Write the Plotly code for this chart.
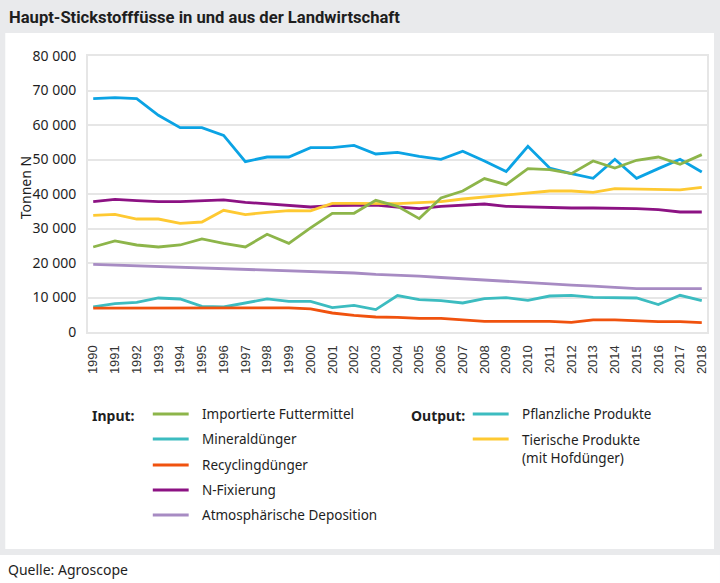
import plotly.graph_objects as go

years = list(range(1990, 2019))

mineralduenger = [67650, 67940, 67650, 62800, 59240, 59240, 57000, 49390, 50720, 50720,
                  53440, 53440, 54100, 51600, 52050, 50930, 50060, 52380, 49570, 46490,
                  53830, 47540, 45910, 44550, 50060, 44550, 47360, 50060, 46380]
importierte_futtermittel = [24640, 26380, 25220, 24640, 25220, 26960, 25710, 24640, 28320, 25710,
                            30150, 34410, 34410, 38170, 36430, 32870, 38840, 40870, 44460, 42720,
                            47360, 47070, 45910, 49570, 47540, 49770, 50720, 48610, 51420]
tierische_produkte = [33830, 34120, 32750, 32750, 31510, 31880, 35280, 34030, 34700, 35190,
                      35100, 37300, 37300, 37300, 37200, 37500, 37800, 38550, 39130, 39710,
                      40290, 40870, 40870, 40490, 41560, 41360, 41360, 41170, 41940]
n_fixierung = [37800, 38460, 38080, 37800, 37800, 37980, 38270, 37600, 37100, 36520,
               36230, 36620, 36810, 36810, 36230, 35750, 36430, 36810, 37100, 36430,
               36230, 35940, 35940, 35940, 35940, 35750, 35460, 34780, 34780]
atmosph_deposition = [19600, 19400, 19200, 19000, 18800, 18600, 18400, 18200, 18000, 17800,
                      17500, 17300, 17100, 16700, 16500, 16200, 15800, 15400, 15200, 14700,
                      14300, 14000, 13600, 13300, 13000, 12600, 12600, 12600, 12600]
pflanzliche_produkte = [7250, 8230, 8610, 9860, 9570, 7450, 7250, 8410, 9570, 8900,
                        8900, 7060, 7740, 6490, 10550, 9390, 9100, 8410, 9680, 9970,
                        9190, 10430, 10640, 10060, 10060, 9860, 7940, 10640, 9100]
recyclingduenger = [6900, 6900, 6900, 6900, 7000, 6900, 7000, 7000, 7000, 7000,
                    6700, 5510, 4840, 4350, 4250, 3970, 3970, 3590, 3100, 3100,
                    3100, 3100, 2810, 3490, 3490, 3200, 3010, 3010, 2720]

yticks = [0, 10000, 20000, 30000, 40000, 50000, 60000, 70000, 80000]

C_BLUE = "#0ba3e4"
C_GREEN = "#8db54a"
C_YELLOW = "#fec932"
C_PURPLE = "#8c1283"
C_LAV = "#a78bc3"
C_TEAL = "#3cbcc0"
C_ORANGE = "#f0520e"

series = [
    ("Mineraldünger", mineralduenger, C_BLUE),
    ("Atmosphärische Deposition", atmosph_deposition, C_LAV),
    ("Pflanzliche Produkte", pflanzliche_produkte, C_TEAL),
    ("Recyclingdünger", recyclingduenger, C_ORANGE),
    ("N-Fixierung", n_fixierung, C_PURPLE),
    ("Tierische Produkte (mit Hofdünger)", tierische_produkte, C_YELLOW),
    ("Importierte Futtermittel", importierte_futtermittel, C_GREEN),
]

fig = go.Figure()
for name, vals, col in series:
    fig.add_trace(go.Scatter(x=years, y=vals, name=name, mode="lines",
                             line=dict(color=col, width=2.8), showlegend=False))

W, H = 720, 583
L, R, T, B = 88, 709, 56, 332

def px(x):
    return (x - L) / (R - L)

def py(y):
    return (B - y) / (B - T)

FONT = "Noto Sans, Open Sans, sans-serif"
TXT = "#1e1e1e"
GRAY = "#e9eaec"

shapes = [
    dict(type="rect", xref="paper", yref="paper", x0=px(5), x1=px(716), y0=py(549), y1=py(33),
         fillcolor="white", line=dict(width=0), layer="below"),
    dict(type="rect", xref="paper", yref="paper", x0=px(-2), x1=px(722), y0=py(585), y1=py(555),
         fillcolor="white", line=dict(width=0), layer="below"),
]
annotations = [
    dict(text="<b>Haupt-Stickstofffüsse in und aus der Landwirtschaft</b>", xref="paper", yref="paper",
         x=px(7), y=py(17), xanchor="left", yanchor="middle", showarrow=False,
         font=dict(family="Liberation Sans Narrow, Roboto, Noto Sans, sans-serif", size=16.6, color=TXT)),
    dict(text="Quelle: Agroscope", xref="paper", yref="paper", x=px(6), y=py(569),
         xanchor="left", yanchor="middle", showarrow=False, font=dict(family=FONT, size=14, color=TXT)),
    dict(text="Tonnen N", xref="paper", yref="paper", x=px(25), y=py(188), textangle=-90,
         xanchor="center", yanchor="middle", showarrow=False, font=dict(family=FONT, size=14, color=TXT)),
    dict(text="<b>Input:</b>", xref="paper", yref="paper", x=px(90), y=py(415),
         xanchor="left", yanchor="middle", showarrow=False, font=dict(family=FONT, size=14, color=TXT)),
    dict(text="<b>Output:</b>", xref="paper", yref="paper", x=px(410), y=py(415),
         xanchor="left", yanchor="middle", showarrow=False, font=dict(family=FONT, size=14, color=TXT)),
]

legend_items = [
    (153, 189, 200, 414, C_GREEN, "Importierte Futtermittel", 414),
    (153, 189, 200, 439, C_TEAL, "Mineraldünger", 439),
    (153, 189, 200, 465, C_ORANGE, "Recyclingdünger", 465),
    (153, 189, 200, 490, C_PURPLE, "N-Fixierung", 490),
    (153, 189, 200, 515, C_LAV, "Atmosphärische Deposition", 515),
    (474, 510, 521, 414, C_TEAL, "Pflanzliche Produkte", 414),
    (474, 510, 521, 439, C_YELLOW, "Tierische Produkte<br>(mit Hofdünger)", 448.5),
]
for x0, x1, xt, yl, col, label, yt in legend_items:
    shapes.append(dict(type="line", xref="paper", yref="paper", x0=px(x0), x1=px(x1),
                       y0=py(yl), y1=py(yl), line=dict(color=col, width=3)))
    annotations.append(dict(text=label, xref="paper", yref="paper", x=px(xt), y=py(yt),
                            xanchor="left", yanchor="middle", align="left", showarrow=False,
                            font=dict(family=FONT, size=13.5, color=TXT)))

fig.update_layout(
    width=W, height=H,
    margin=dict(l=L, r=W - R, t=T, b=H - B, pad=0),
    paper_bgcolor=GRAY, plot_bgcolor="white",
    separators=", ",
    shapes=shapes, annotations=annotations,
    showlegend=False,
    xaxis=dict(range=[1989.76, 2018.24], tickvals=years, ticktext=[str(y) for y in years],
               tickangle=-90, showgrid=False, zeroline=False,
               showline=True, mirror=True, linecolor="#e6e6e6", linewidth=2,
               ticks="outside", ticklen=6, tickcolor="rgba(0,0,0,0)",
               tickfont=dict(family="Liberation Sans, Arial, sans-serif", size=13, color="#333")),
    yaxis=dict(range=[0, 80000], tickvals=yticks, tickformat=",d",
               showgrid=True, gridcolor="#e6e6e6", gridwidth=2, zeroline=False,
               showline=True, mirror=True, linecolor="#e6e6e6", linewidth=2,
               ticks="outside", ticklen=7, tickcolor="rgba(0,0,0,0)",
               tickfont=dict(family=FONT, size=14, color=TXT)),
)

fig.write_html("out.html", config={"displayModeBar": False},
               post_script="document.body.style.margin='0';document.body.style.padding='0';")
